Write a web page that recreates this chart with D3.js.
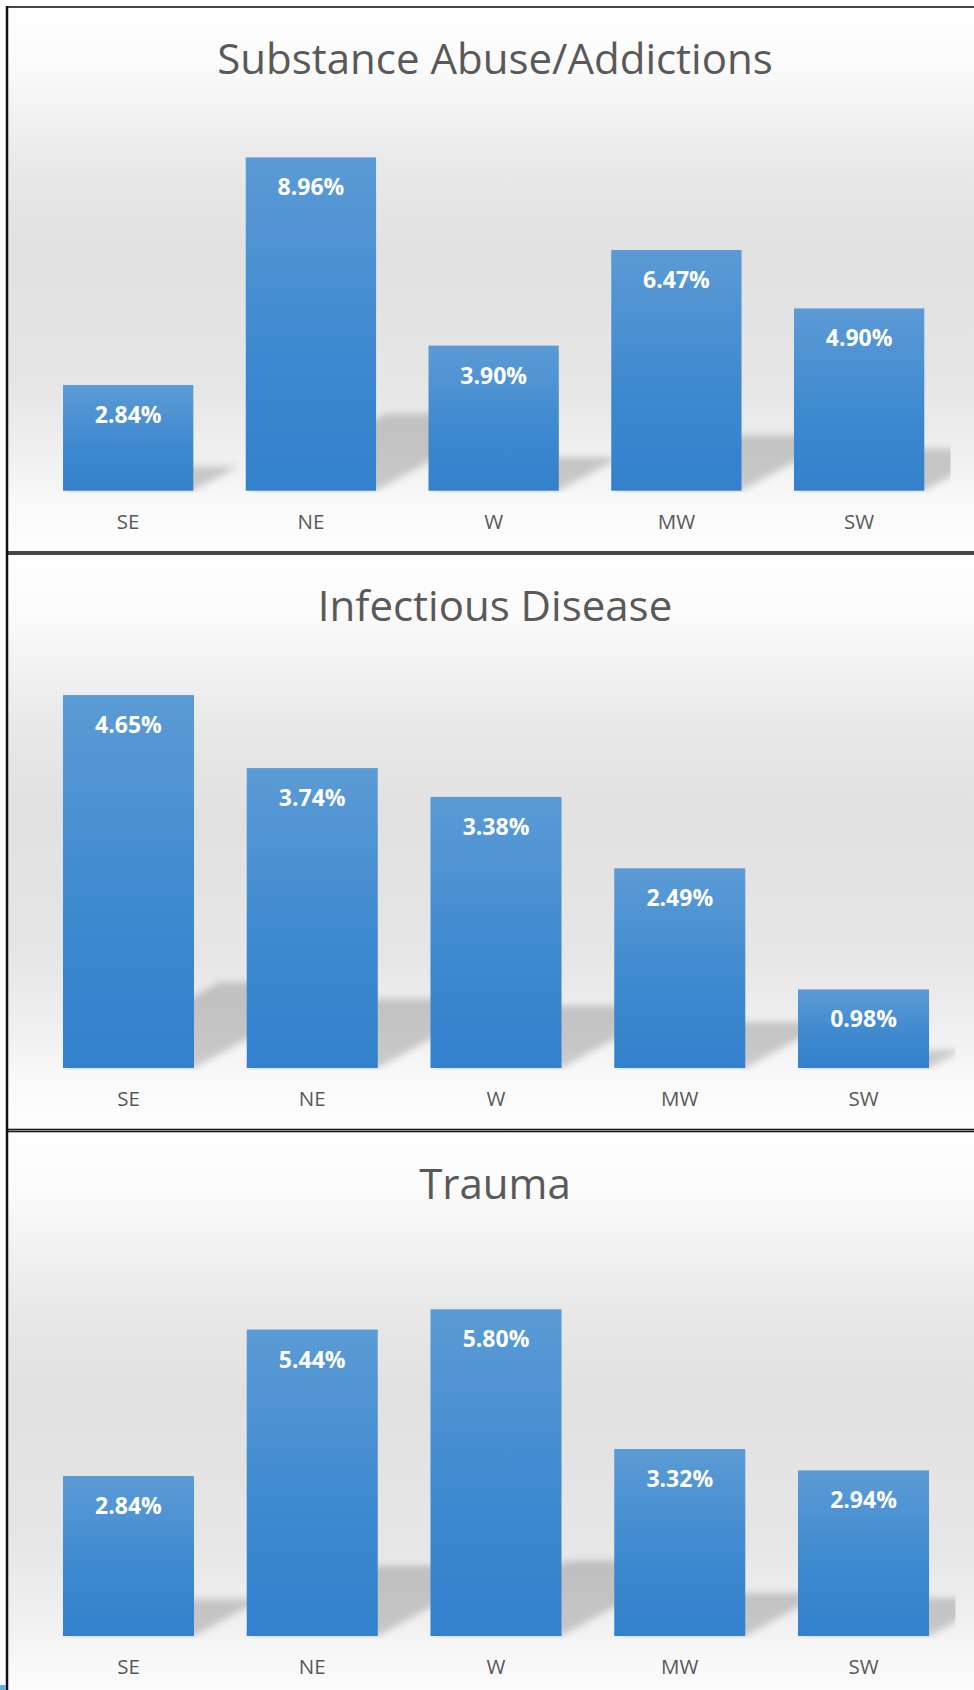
<!DOCTYPE html>
<html>
<head>
<meta charset="utf-8">
<script src="https://cdn.jsdelivr.net/npm/d3@7"></script>
<style>
  body { margin: 0; background: #fff; }
  svg { display: block; }
</style>
</head>
<body>
<div id="chart"></div>
<script>
// Chart data
const regions = ['SE', 'NE', 'W', 'MW', 'SW'];
const titles = ['Substance Abuse/Addictions', 'Infectious Disease', 'Trauma'];
const substanceAbuse = [2.84, 8.96, 3.90, 6.47, 4.90];
const infectiousDisease = [4.65, 3.74, 3.38, 2.49, 0.98];
const trauma = [2.84, 5.44, 5.80, 3.32, 2.94];
const axisMax = [10, 5, 7];

const W = 974, H = 1690;

// Layout of each stacked chart (pixels)
const layouts = [
  { top: 7, bottom: 552, x: [36.8, 950.5], y: [490.7, 118.7] },
  { top: 554, bottom: 1129.5, x: [36.6, 955.4], y: [1068, 667] },
  { top: 1131.5, bottom: 1720, x: [36.6, 955.4], y: [1636, 1241.7] }
];

const svg = d3.select('#chart')
  .append('svg')
  .attr('width', W)
  .attr('height', H);

const defs = svg.append('defs');

// Background gradient of each chart area
const bg = defs.append('linearGradient')
  .attr('id', 'bgGrad')
  .attr('x1', 0).attr('y1', 0).attr('x2', 0).attr('y2', 1);
[[0, '#ffffff'], [0.1, '#fbfbfb'], [0.3, '#e8e8e8'], [0.45, '#e1e1e1'],
 [0.7, '#e6e6e6'], [0.84, '#f1f1f1'], [0.9, '#f8f8f8'], [1, '#fefefe']]
  .forEach(s => bg.append('stop').attr('offset', s[0]).attr('stop-color', s[1]));

// Bar gradient
const barGrad = defs.append('linearGradient')
  .attr('id', 'barGrad')
  .attr('x1', 0).attr('y1', 0).attr('x2', 0).attr('y2', 1);
barGrad.append('stop').attr('offset', 0).attr('stop-color', '#5b9bd5');
barGrad.append('stop').attr('offset', 0.6).attr('stop-color', '#3d88cf');
barGrad.append('stop').attr('offset', 1).attr('stop-color', '#3380cc');

// Soft blur for the perspective shadows
defs.append('filter')
  .attr('id', 'blur')
  .attr('x', '-30%').attr('y', '-30%')
  .attr('width', '160%').attr('height', '160%')
  .append('feGaussianBlur')
  .attr('stdDeviation', 3.5);

const series = [substanceAbuse, infectiousDisease, trauma];

series.forEach((values, i) => drawPanel(i, values));

function drawPanel(i, values) {
  const L = layouts[i];
  const data = regions.map((r, j) => ({ region: r, value: values[j] }));

  const g = svg.append('g');

  // Chart area background and border
  g.append('rect')
    .attr('x', 7)
    .attr('y', L.top)
    .attr('width', 1000)
    .attr('height', L.bottom - L.top)
    .attr('fill', 'url(#bgGrad)')
    .attr('stroke', '#1a1a1a')
    .attr('stroke-width', 1.6);

  const x = d3.scaleBand()
    .domain(regions)
    .range(L.x)
    .paddingInner(0.287)
    .paddingOuter(0.1435);

  const y = d3.scaleLinear()
    .domain([0, axisMax[i]])
    .range(L.y);

  const base = y(0);

  // Clip for shadows to stay inside plot area
  defs.append('clipPath')
    .attr('id', 'clip' + i)
    .append('rect')
    .attr('x', L.x[0])
    .attr('y', L.y[1] - 20)
    .attr('width', L.x[1] - L.x[0])
    .attr('height', base - L.y[1] + 22);

  // Perspective shadows falling back behind the bars
  const k = 0.23, s = 0.42;
  g.append('g')
    .attr('clip-path', `url(#clip${i})`)
    .selectAll('path')
    .data(data)
    .enter()
    .append('path')
    .attr('d', d => {
      const x0 = x(d.region), x1 = x0 + x.bandwidth();
      const h = base - y(d.value);
      const dx = h * s, dy = h * k;
      return `M${x0},${base}L${x1},${base}L${x1 + dx},${base - dy}L${x0 + dx},${base - dy}Z`;
    })
    .attr('fill', '#000')
    .attr('fill-opacity', 0.18)
    .attr('filter', 'url(#blur)');

  // Bars
  g.selectAll('rect.bar')
    .data(data)
    .enter()
    .append('rect')
    .attr('class', 'bar')
    .attr('x', d => x(d.region))
    .attr('y', d => y(d.value))
    .attr('width', x.bandwidth())
    .attr('height', d => base - y(d.value))
    .attr('fill', 'url(#barGrad)');

  // Value labels inside the bars
  g.selectAll('text.value')
    .data(data)
    .enter()
    .append('text')
    .attr('class', 'value')
    .attr('x', d => x(d.region) + x.bandwidth() / 2)
    .attr('y', d => y(d.value) + 38)
    .attr('text-anchor', 'middle')
    .style('font-family', '"Open Sans", "Noto Sans", sans-serif')
    .style('font-size', '23px')
    .style('font-weight', 'bold')
    .style('fill', '#fff')
    .text(d => d.value.toFixed(2) + '%');

  // Category axis labels (no axis line)
  const axis = g.append('g')
    .attr('transform', `translate(0, ${base})`)
    .call(d3.axisBottom(x).tickSize(0).tickPadding(0));
  axis.select('.domain').remove();
  axis.selectAll('text')
    .attr('dy', null)
    .attr('y', 38)
    .style('font-family', '"Open Sans", "Noto Sans", sans-serif')
    .style('font-size', '20.5px')
    .style('fill', '#595959');

  // Chart title
  g.append('text')
    .attr('x', 495)
    .attr('y', L.top + 67)
    .attr('text-anchor', 'middle')
    .style('font-family', '"Open Sans", "Noto Sans", sans-serif')
    .style('font-size', '42px')
    .style('fill', '#595959')
    .text(titles[i]);
}

// Heavier left edge
svg.append('line')
  .attr('x1', 7).attr('x2', 7)
  .attr('y1', 6).attr('y2', H)
  .attr('stroke', '#111')
  .attr('stroke-width', 2.5);

// Small cut-off element at the bottom-left corner
svg.append('rect')
  .attr('x', 0).attr('y', 1685)
  .attr('width', 6).attr('height', 5)
  .attr('fill', '#5ab4d6');
</script>
</body>
</html>
